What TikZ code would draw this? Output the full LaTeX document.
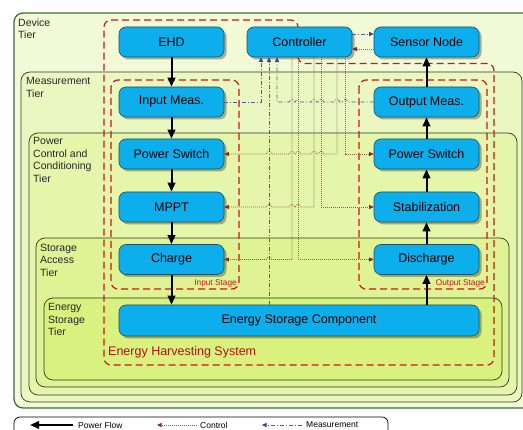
\documentclass[tikz,border=0pt]{standalone}
\usepackage{fontspec}
\setmainfont{Liberation Sans}
\usetikzlibrary{arrows.meta,shadows,calc}

\definecolor{boxblue}{RGB}{12,174,236}
\definecolor{boxedge}{RGB}{30,80,100}
\definecolor{tierA}{RGB}{241,249,214}
\definecolor{tierB}{RGB}{235,247,192}
\definecolor{tierC}{RGB}{229,245,170}
\definecolor{tierD}{RGB}{223,243,148}
\definecolor{tierE}{RGB}{217,241,126}
\definecolor{tieredge}{RGB}{40,60,40}
\definecolor{devedge}{RGB}{60,110,60}
\definecolor{ehsred}{RGB}{210,20,20}
\definecolor{ctrlcol}{RGB}{160,90,60}
\definecolor{ctrlhead}{RGB}{140,40,30}
\definecolor{meascol}{RGB}{70,95,150}
\definecolor{meashead}{RGB}{40,70,150}

% small bridge where a line passes over a crossing line (path runs leftwards)
\newcommand\hopl[2]{-- (#1+2.5,#2) .. controls (#1+2.5,#2-3.4) and (#1-2.5,#2-3.4) .. (#1-2.5,#2)}

\begin{document}
\begin{tikzpicture}[x=1pt,y=-1pt,
  tier/.style={draw=tieredge, line width=0.7pt, rounded corners=9pt},
  tierlabel/.style={anchor=north west, inner sep=0pt, align=left,
    font=\fontsize{10.5}{12.5}\selectfont, text=black!85},
  blk/.style={draw=boxedge, line width=0.6pt, fill=boxblue, rounded corners=7pt,
    minimum width=105pt, minimum height=30pt, inner sep=0pt,
    font=\fontsize{12.5}{15}\selectfont,
    drop shadow={shadow xshift=2.5pt, shadow yshift=-2.5pt, fill=black, opacity=0.3}},
  ehs/.style={draw=ehsred, line width=1.2pt, dash pattern=on 7pt off 4pt, rounded corners=7pt},
  flow/.style={line width=2pt, -{Triangle[length=9pt,width=7.5pt]}},
  ctrl/.style={ctrlcol, line width=0.7pt, dash pattern=on 1pt off 1pt,
    -{Triangle[length=4.5pt,width=4pt,color=ctrlhead]}},
  meas/.style={meascol, line width=0.7pt, dash pattern=on 4pt off 2pt on 1pt off 2pt,
    -{Triangle[length=4.5pt,width=4pt,color=meashead]}},
  legtext/.style={anchor=west, inner sep=0pt, font=\fontsize{8.5}{10}\selectfont}]

\path[use as bounding box] (0,0) rectangle (523,430);
\clip (0,0) rectangle (523,430);

% nested tiers
\draw[tier, fill=tierA, draw=devedge, line width=1.3pt] (14,13) rectangle (535,408);
\draw[tier, fill=tierB] (21,72) rectangle (522,402);
\draw[tier, fill=tierC] (29,133) rectangle (517,395);
\draw[tier, fill=tierD] (36,238) rectangle (509,387);
\draw[tier, fill=tierE] (44,298) rectangle (502,380);

\node[tierlabel] (lDev) at (18,18.5) {Device\\Tier};
\node[tierlabel] (lMeas) at (26,77.5) {Measurement\\Tier};
\node[tierlabel] (lPow) at (33,137.5) {Power\\Control and\\Conditioning\\Tier};
\node[tierlabel] (lSto) at (40,243.5) {Storage\\Access\\Tier};
\node[tierlabel] (lEn) at (48,303.5) {Energy\\Storage\\Tier};

% legend frame
\draw[line width=0.7pt, fill=white, rounded corners=6pt] (14,417) rectangle (388,445);

% system and stage outlines
\draw[ehs] (104,20) -- (298,20) -- (298,63.5) -- (494,63.5) -- (494,365) -- (104,365) -- cycle;
\draw[ehs] (111,80) rectangle (239,289);
\draw[ehs] (359,80) rectangle (487,289);
\node[anchor=east, inner sep=0pt, text=ehsred, font=\fontsize{8.3}{10}\selectfont] (lIn) at (237,283) {Input Stage};
\node[anchor=east, inner sep=0pt, text=ehsred, font=\fontsize{8.3}{10}\selectfont] (lOut) at (485,283) {Output Stage};
\node[anchor=west, inner sep=0pt, text=ehsred!85!black, font=\fontsize{12.5}{15}\selectfont] (lEhs) at (108,352) {Energy Harvesting System};

% blocks
\node[blk] (ehd)  at (171.5,42)    {EHD};
\node[blk] (ctl)  at (299.5,42)    {Controller};
\node[blk] (sen)  at (426.5,42)    {Sensor Node};
\node[blk] (inm)  at (171.5,102)   {Input Meas.};
\node[blk] (outm) at (426.5,102)   {Output Meas.};
\node[blk] (psl)  at (171.5,154)   {Power Switch};
\node[blk] (psr)  at (426.5,154)   {Power Switch};
\node[blk] (mppt) at (171.5,207)   {MPPT};
\node[blk] (stab) at (426.5,207)   {Stabilization};
\node[blk] (chg)  at (171.5,259.5) {Charge};
\node[blk] (dis)  at (426.5,259.5) {Discharge};
\node[blk, minimum width=360pt, minimum height=31pt] (esc) at (299,320.5) {Energy Storage Component};

% ports along the controller's lower edge
\coordinate (m1) at ([xshift=-38.5pt]ctl.south);
\coordinate (m2) at ([xshift=-30.5pt]ctl.south);
\coordinate (m3) at ([xshift=-22.5pt]ctl.south);
\coordinate (c1) at ([xshift=-7.5pt]ctl.south);
\coordinate (c2) at ([xshift=-1.5pt]ctl.south);
\coordinate (c3) at ([xshift=14.5pt]ctl.south);
\coordinate (c4) at ([xshift=21.5pt]ctl.south);
\coordinate (c5) at ([xshift=37.5pt]ctl.south);
\coordinate (c6) at ([xshift=45.5pt]ctl.south);

% control lines
\draw[ctrl] (c5) -- (c5 |- psl.east) \hopl{321}{154} \hopl{314}{154} \hopl{298}{154} \hopl{292}{154} \hopl{269}{154} -- (psl.east);
\draw[ctrl] (c3) -- (c3 |- mppt.east) \hopl{298}{207} \hopl{292}{207} \hopl{269}{207} -- (mppt.east);
\draw[ctrl] (c1) -- (c1 |- chg.east) \hopl{269}{259.5} -- (chg.east);
\draw[ctrl] (c6) |- (psr.west);
\draw[ctrl] (c4) |- (stab.west);
\draw[ctrl] (c2) |- (dis.west);
\draw[ctrl] ([yshift=-7pt]sen.west) -- ([yshift=-7pt]ctl.east);

% measurement lines
\draw[meas] (inm.east) -| (m1);
\draw[meas] (outm.west) \hopl{345}{102} \hopl{337}{102} \hopl{321}{102} \hopl{314}{102} \hopl{298}{102} \hopl{292}{102} -- (m3 |- outm.west) -- (m3);
\draw[meas] (esc.north -| m2) -- (m2);
\draw[meas] ([yshift=8pt]ctl.east) -- ([yshift=8pt]sen.west);

% power flow
\draw[flow] (ehd) -- (inm);
\draw[flow] (inm) -- (psl);
\draw[flow] (psl) -- (mppt);
\draw[flow] (mppt) -- (chg);
\draw[flow] (chg.south) -- (chg.south |- esc.north);
\draw[flow] (esc.north -| dis.south) -- (dis.south);
\draw[flow] (dis) -- (stab);
\draw[flow] (stab) -- (psr);
\draw[flow] (psr) -- (outm);
\draw[flow] (outm) -- (sen);

% legend entries
\coordinate (lgA1) at (73,425);  \coordinate (lgA0) at (30,425);
\coordinate (lgB1) at (197,425); \coordinate (lgB0) at (157,425);
\coordinate (lgC1) at (302,425); \coordinate (lgC0) at (262,425);
\draw[flow] (lgA1) -- (lgA0);
\node[legtext] (tA) at (78,425) {Power Flow};
\draw[ctrl] (lgB1) -- (lgB0);
\node[legtext] (tB) at (200,425) {Control};
\draw[meas] (lgC1) -- (lgC0);
\node[legtext] (tC) at (306,425) {Measurement};

\end{tikzpicture}
\end{document}
